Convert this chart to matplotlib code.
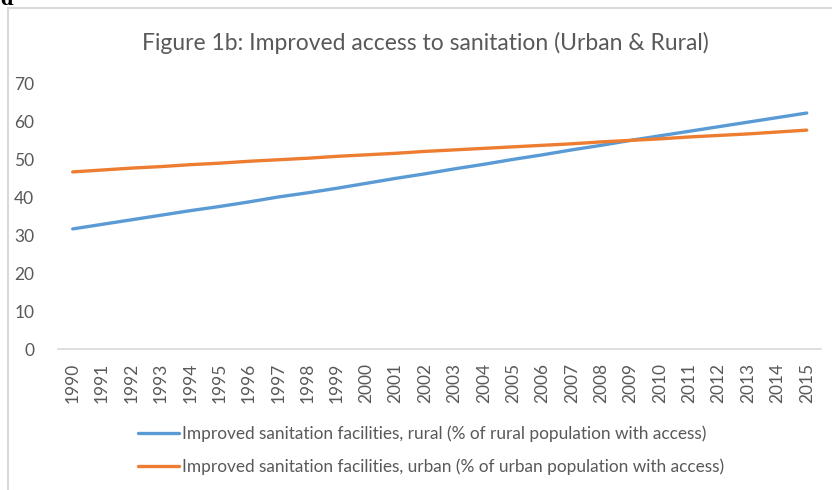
import matplotlib
matplotlib.use("Agg")
import matplotlib.pyplot as plt
from matplotlib.patches import Rectangle

years = list(range(1990, 2016))
rural = [31.6, 32.8, 34.0, 35.2, 36.4, 37.5, 38.7, 40.0, 41.1, 42.3, 43.6, 44.9, 46.1,
         47.4, 48.6, 49.9, 51.1, 52.4, 53.6, 54.9, 56.1, 57.3, 58.5, 59.7, 60.9, 62.1]
urban = [46.6, 47.1, 47.6, 48.0, 48.5, 48.9, 49.4, 49.8, 50.2, 50.7, 51.1, 51.5, 52.0,
         52.4, 52.8, 53.2, 53.6, 54.0, 54.5, 54.9, 55.3, 55.8, 56.2, 56.6, 57.1, 57.6]
y_ticks = [0, 10, 20, 30, 40, 50, 60, 70]

title = "Figure 1b: Improved access to sanitation (Urban & Rural)"
label_rural = "Improved sanitation facilities, rural (% of rural population with access)"
label_urban = "Improved sanitation facilities, urban (% of urban population with access)"

BLUE = "#5b9bd5"
ORANGE = "#ed7d31"
TEXT = "#595959"
GRID = "#d9d9d9"

plt.rcParams["font.family"] = ["Lato", "DejaVu Sans"]

W, H = 832, 490
fig = plt.figure(figsize=(W / 100, H / 100), dpi=100)

# chart frame
fig.patches.append(Rectangle((8 / W, -0.1), 1.2, 1 - 8 / H + 0.1, transform=fig.transFigure,
                             fill=False, edgecolor=GRID, linewidth=1.5))
# stray heading letter from the page above the chart
fig.text(0 / W, 1 - 5 / H, "d", fontsize=13, fontweight="bold", family="DejaVu Serif",
         color="black", ha="left", va="baseline")

ax = fig.add_axes([58 / W, 1 - 349 / H, (821.4 - 58) / W, (349 - 83) / H])
x = list(range(len(years)))
l1, = ax.plot(x, rural, color=BLUE, linewidth=2.4, solid_capstyle="round")
l2, = ax.plot(x, urban, color=ORANGE, linewidth=2.4, solid_capstyle="round")

ax.set_xlim(-0.5, len(years) - 0.5)
ax.set_ylim(0, 70)
ax.set_yticks(y_ticks)
ax.set_xticks(x)
ax.set_xticklabels([str(y) for y in years], rotation=90, fontsize=12.5, color=TEXT)
ax.set_yticklabels([str(v) for v in y_ticks], fontsize=12.5, color=TEXT)
ax.tick_params(axis="both", length=0)
ax.tick_params(axis="y", pad=17)
ax.tick_params(axis="x", pad=10)
for s in ["top", "right", "left"]:
    ax.spines[s].set_visible(False)
ax.spines["bottom"].set_color(GRID)
ax.spines["bottom"].set_linewidth(1.2)

fig.text(425 / W, 1 - 43 / H, title, fontsize=16.5, color=TEXT, ha="center", va="center")

leg = fig.legend([l1, l2], [label_rural, label_urban], loc="upper left",
                 bbox_to_anchor=(131 / W, 1 - 419 / H), frameon=False, fontsize=12.4,
                 handlelength=2.4, handletextpad=0.15, labelspacing=0.95, borderaxespad=0)
for t in leg.get_texts():
    t.set_color(TEXT)

fig.savefig("out.png", dpi=100)
